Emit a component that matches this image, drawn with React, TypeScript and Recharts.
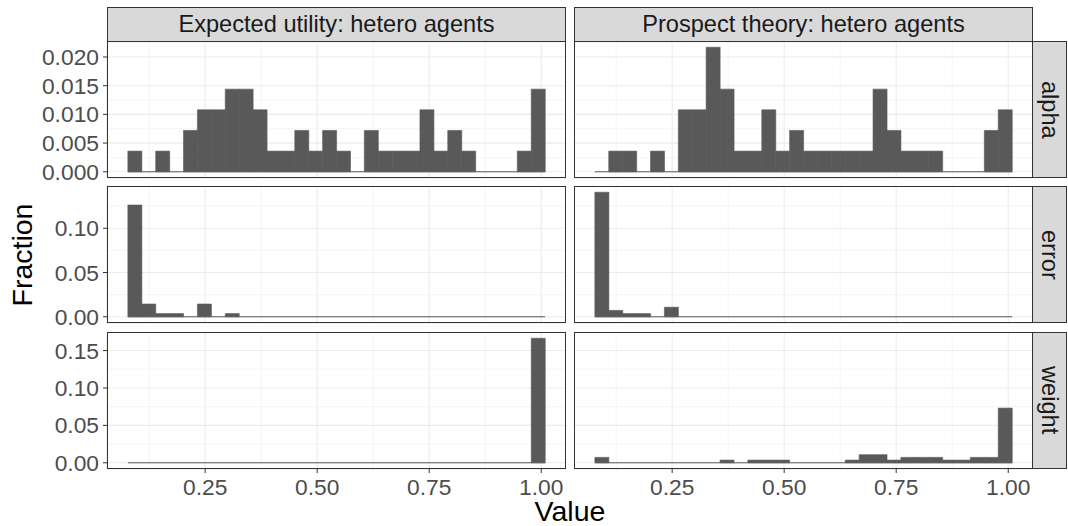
import {
  BarChart,
  Bar,
  XAxis,
  YAxis,
  CartesianGrid,
  ReferenceLine,
} from "recharts";

// bin centres of the 30-bin histograms (shared by all panels)
const binCenters = [
  0.093, 0.124, 0.1551, 0.1861, 0.2172, 0.2482, 0.2792, 0.3103, 0.3413, 0.3724,
  0.4034, 0.4344, 0.4655, 0.4965, 0.5276, 0.5586, 0.5896, 0.6207, 0.6517, 0.6828,
  0.7138, 0.7448, 0.7759, 0.8069, 0.838, 0.869, 0.9, 0.9311, 0.9621, 0.9932,
];
const binEdges = [0.0775, 1.0087];

const euAlpha = [
  0.0036, 0, 0.0036, 0, 0.0072, 0.0108, 0.0108, 0.0144, 0.0144, 0.0108,
  0.0036, 0.0036, 0.0072, 0.0036, 0.0072, 0.0036, 0, 0.0072, 0.0036, 0.0036,
  0.0036, 0.0108, 0.0036, 0.0072, 0.0036, 0, 0, 0, 0.0036, 0.0144,
];
const ptAlpha = [
  0, 0.0036, 0.0036, 0, 0.0036, 0, 0.0108, 0.0108, 0.0217, 0.0144,
  0.0036, 0.0036, 0.0108, 0.0036, 0.0072, 0.0036, 0.0036, 0.0036, 0.0036, 0.0036,
  0.0144, 0.0072, 0.0036, 0.0036, 0.0036, 0, 0, 0, 0.0072, 0.0108,
];
const euError = [
  0.1263, 0.0144, 0.0036, 0.0036, 0, 0.0144, 0, 0.0036, 0, 0,
  0, 0, 0, 0, 0, 0, 0, 0, 0, 0,
  0, 0, 0, 0, 0, 0, 0, 0, 0, 0,
];
const ptError = [
  0.1407, 0.0072, 0.0036, 0.0036, 0, 0.0108, 0, 0, 0, 0,
  0, 0, 0, 0, 0, 0, 0, 0, 0, 0,
  0, 0, 0, 0, 0, 0, 0, 0, 0, 0,
];
const euWeight = [
  0, 0, 0, 0, 0, 0, 0, 0, 0, 0,
  0, 0, 0, 0, 0, 0, 0, 0, 0, 0,
  0, 0, 0, 0, 0, 0, 0, 0, 0, 0.1665,
];
const ptWeight = [
  0.0072, 0, 0, 0, 0, 0, 0, 0, 0, 0.0036,
  0, 0.0036, 0.0036, 0.0036, 0, 0, 0, 0, 0.0036, 0.0108,
  0.0108, 0.0036, 0.0072, 0.0072, 0.0072, 0.0036, 0.0036, 0.0072, 0.0072, 0.0731,
];

const columnLabels = ["Expected utility: hetero agents", "Prospect theory: hetero agents"];
const rowLabels = ["alpha", "error", "weight"];

const xTicks = [0.25, 0.5, 0.75, 1.0];
const xMinorTicks = [0.125, 0.375, 0.625, 0.875];
const alphaTicks = [0, 0.005, 0.01, 0.015, 0.02];
const alphaMinor = [0.0025, 0.0075, 0.0125, 0.0175, 0.0225];
const errorTicks = [0, 0.05, 0.1];
const errorMinor = [0.025, 0.075, 0.125];
const weightTicks = [0, 0.05, 0.1, 0.15];
const weightMinor = [0.025, 0.075, 0.125, 0.175];

const FONT = '"Liberation Sans", Arial, Helvetica, sans-serif';
const PANEL_X = [107, 574];
const PANEL_Y = [41, 186, 332];
const PANEL_W = 459;
const PANEL_H = 137;
const Y_AXIS_W = 107;
const X_AXIS_H = 57;
const EXTRA = 12; // room below the panel so the last y label is not clipped

const rows = [
  { series: [euAlpha, ptAlpha], ticks: alphaTicks, minor: alphaMinor, digits: 3 },
  { series: [euError, ptError], ticks: errorTicks, minor: errorMinor, digits: 2 },
  { series: [euWeight, ptWeight], ticks: weightTicks, minor: weightMinor, digits: 2 },
];

// ggplot-style 5% expansion
const pad = (binEdges[1] - binEdges[0]) * 0.05;
const xDomain = [binEdges[0] - pad, binEdges[1] + pad];

const tickStyle = { fill: "#4D4D4D", fontSize: 22.8, fontFamily: FONT };

function Panel({ row, col }: { row: number; col: number }) {
  const cfg = rows[row];
  const values = cfg.series[col];
  const rowMax = Math.max(...cfg.series[0], ...cfg.series[1]);
  const yDomain = [-0.05 * rowMax, 1.05 * rowMax];
  const data = binCenters.map((x, i) => ({ x, y: values[i] }));
  const left = col === 0;
  const bottom = row === 2;
  const extra = bottom ? 0 : EXTRA;

  return (
    <div
      style={{
        position: "absolute",
        left: left ? 0 : PANEL_X[1],
        top: PANEL_Y[row],
      }}
    >
      <BarChart
        width={left ? Y_AXIS_W + PANEL_W : PANEL_W}
        height={PANEL_H + (bottom ? X_AXIS_H : extra)}
        data={data}
        margin={{ top: 0, right: 0, bottom: extra, left: 0 }}
        barCategoryGap={0}
        barGap={0}
      >
        <XAxis
          xAxisId="minor"
          type="number"
          dataKey="x"
          hide
          domain={xDomain}
          allowDataOverflow
          ticks={xMinorTicks}
        />
        <YAxis
          yAxisId="minor"
          type="number"
          hide
          domain={yDomain}
          allowDataOverflow
          ticks={cfg.minor}
        />
        <CartesianGrid xAxisId="minor" yAxisId="minor" stroke="#EBEBEB" strokeWidth={0.55} />
        <XAxis
          type="number"
          dataKey="x"
          domain={xDomain}
          allowDataOverflow
          ticks={xTicks}
          interval={0}
          hide={!bottom}
          height={X_AXIS_H}
          axisLine={false}
          tickLine={{ stroke: "#333333" }}
          tickSize={4}
          tickMargin={6}
          tick={tickStyle}
          tickFormatter={(v: number) => v.toFixed(2)}
        />
        <YAxis
          type="number"
          domain={yDomain}
          allowDataOverflow
          ticks={cfg.ticks}
          interval={0}
          hide={!left}
          width={Y_AXIS_W}
          axisLine={false}
          tickLine={{ stroke: "#333333" }}
          tickSize={4}
          tickMargin={4}
          tick={tickStyle}
          tickFormatter={(v: number) => v.toFixed(cfg.digits)}
        />
        <CartesianGrid stroke="#EBEBEB" strokeWidth={1.1} />
        <Bar
          dataKey="y"
          fill="#595959"
          stroke="#595959"
          strokeWidth={0.6}
          isAnimationActive={false}
        />
        <ReferenceLine
          segment={[
            { x: binEdges[0], y: 0 },
            { x: binEdges[1], y: 0 },
          ]}
          stroke="#595959"
          strokeWidth={1}
        />
      </BarChart>
    </div>
  );
}

export default function App() {
  return (
    <div
      style={{
        position: "absolute",
        left: 0,
        top: 0,
        width: 1068,
        height: 526,
        background: "#fff",
        overflow: "hidden",
        fontFamily: FONT,
      }}
    >
      {[0, 1, 2].map((r) =>
        [0, 1].map((c) => <Panel key={`${r}-${c}`} row={r} col={c} />)
      )}
      {[0, 1, 2].map((r) =>
        [0, 1].map((c) => (
          <div
            key={`b${r}-${c}`}
            style={{
              position: "absolute",
              left: PANEL_X[c],
              top: PANEL_Y[r],
              width: PANEL_W,
              height: PANEL_H,
              border: "1.1px solid #333333",
              boxSizing: "border-box",
              pointerEvents: "none",
            }}
          />
        ))
      )}
      {columnLabels.map((label, c) => (
        <div
          key={label}
          style={{
            position: "absolute",
            left: PANEL_X[c],
            top: 7,
            width: PANEL_W,
            height: 35,
            boxSizing: "border-box",
            border: "1.1px solid #333333",
            background: "#D9D9D9",
            color: "#1A1A1A",
            fontSize: 23.6,
            display: "flex",
            alignItems: "center",
            justifyContent: "center",
          }}
        >
          {label}
        </div>
      ))}
      {rowLabels.map((label, r) => (
        <div
          key={label}
          style={{
            position: "absolute",
            left: PANEL_X[1] + PANEL_W - 1,
            top: PANEL_Y[r],
            width: 35,
            height: PANEL_H,
            boxSizing: "border-box",
            border: "1.1px solid #333333",
            background: "#D9D9D9",
            color: "#1A1A1A",
            fontSize: 23.6,
            display: "flex",
            alignItems: "center",
            justifyContent: "center",
            writingMode: "vertical-rl",
          }}
        >
          {label}
        </div>
      ))}
      <div
        style={{
          position: "absolute",
          left: 470,
          top: 501,
          width: 200,
          height: 21,
          textAlign: "center",
          fontSize: 28.5,
          lineHeight: "21px",
          color: "#000",
        }}
      >
        Value
      </div>
      <div
        style={{
          position: "absolute",
          left: 22 - 80,
          top: 255 - 15,
          width: 160,
          height: 30,
          lineHeight: "30px",
          textAlign: "center",
          fontSize: 28.5,
          color: "#000",
          transform: "rotate(-90deg)",
        }}
      >
        Fraction
      </div>
    </div>
  );
}
